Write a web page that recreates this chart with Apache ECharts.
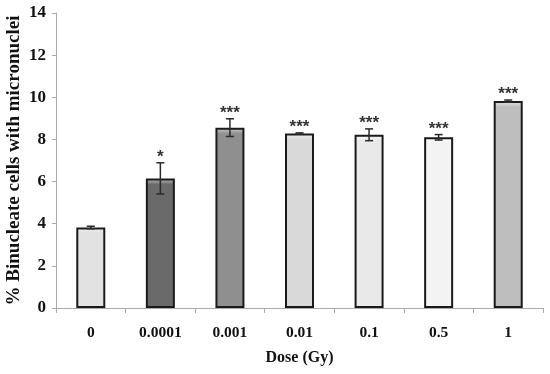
<!DOCTYPE html>
<html><head><meta charset="utf-8">
<script src="https://cdn.jsdelivr.net/npm/echarts@6/dist/echarts.min.js"></script>
<style>html,body{margin:0;padding:0;background:#fff}#c{width:550px;height:374px}</style>
</head><body><div id="c"></div>
<script>
const categories = ['0', '0.0001', '0.001', '0.01', '0.1', '0.5', '1'];
const values = [3.82, 6.15, 8.56, 8.28, 8.22, 8.10, 9.82];
const errors = [0.06, 0.74, 0.42, 0.03, 0.28, 0.13, 0.05];
const stars = ['', '*', '***', '***', '***', '***', '***'];
const barColors = ['#e2e2e2', '#6a6a6a', '#8f8f8f', '#d9d9d9', '#e9e9e9', '#f3f3f3', '#bebebe'];
const yTicks = [0, 2, 4, 6, 8, 10, 12, 14];

function lighten(hex, f) {
  const n = parseInt(hex.slice(1), 16);
  let r = n >> 16, g = (n >> 8) & 255, b = n & 255;
  r = Math.round(r + (255 - r) * f); g = Math.round(g + (255 - g) * f); b = Math.round(b + (255 - b) * f);
  return 'rgb(' + r + ',' + g + ',' + b + ')';
}

const chart = echarts.init(document.getElementById('c'));
const font = 'Liberation Serif';
chart.setOption({
  animation: false,
  grid: { left: 56, right: 7, top: 13, bottom: 66, containLabel: false, outerBoundsMode: 'none' },
  xAxis: {
    type: 'category', data: categories,
    name: 'Dose (Gy)', nameLocation: 'middle', nameGap: 42, nameMoveOverlap: false,
    nameTextStyle: { fontFamily: font, fontWeight: 'bold', fontSize: 16, color: '#111' },
    axisLine: { lineStyle: { color: '#aaa', width: 1 } },
    axisTick: { show: true, length: 5, lineStyle: { color: '#aaa' } },
    axisLabel: { fontFamily: font, fontWeight: 'bold', fontSize: 15.5, color: '#111', margin: 17 }
  },
  yAxis: {
    type: 'value', min: 0, max: 14, interval: 2,
    name: '% Binucleate cells with micronuclei', nameLocation: 'middle', nameGap: 32, nameMoveOverlap: false,
    nameTextStyle: { fontFamily: font, fontWeight: 'bold', fontSize: 19, color: '#111' },
    axisLine: { show: true, lineStyle: { color: '#aaa', width: 1 } },
    axisTick: { show: true, length: 4, lineStyle: { color: '#aaa' } },
    splitLine: { show: false },
    axisLabel: { fontFamily: font, fontWeight: 'bold', fontSize: 17, color: '#111', margin: 10,
      formatter: v => yTicks.includes(v) ? String(v) : '' }
  },
  series: [
    {
      type: 'bar', barWidth: 29,
      data: values.map((v, i) => ({
        value: v,
        itemStyle: {
          color: new echarts.graphic.LinearGradient(0, 0, 0, 1, [
            { offset: 0, color: lighten(barColors[i], 0.6) },
            { offset: Math.min(0.06, 6 / (v * 21)), color: barColors[i] },
            { offset: 1, color: barColors[i] }
          ]),
          borderColor: '#1a1a1a', borderWidth: 2
        }
      }))
    },
    {
      type: 'custom', z: 5,
      data: values.map((v, i) => [i, v, errors[i]]),
      renderItem: function (params, api) {
        const i = api.value(0), v = api.value(1), e = api.value(2);
        const top = api.coord([i, v + e]);
        const bot = api.coord([i, v - e]);
        const w = 4;
        const ls = { stroke: '#2a2a2a', lineWidth: 1.5 };
        return {
          type: 'group',
          children: [
            { type: 'line', shape: { x1: top[0], y1: top[1], x2: bot[0], y2: bot[1] }, style: ls },
            { type: 'line', shape: { x1: top[0] - w, y1: top[1], x2: top[0] + w, y2: top[1] }, style: ls },
            { type: 'line', shape: { x1: bot[0] - w, y1: bot[1], x2: bot[0] + w, y2: bot[1] }, style: ls },
            { type: 'text', style: { text: stars[i], x: top[0], y: top[1] + 3, align: 'center', verticalAlign: 'bottom',
              font: 'bold 17px "Liberation Sans"', fill: '#333' } }
          ]
        };
      }
    }
  ]
});
</script></body></html>
